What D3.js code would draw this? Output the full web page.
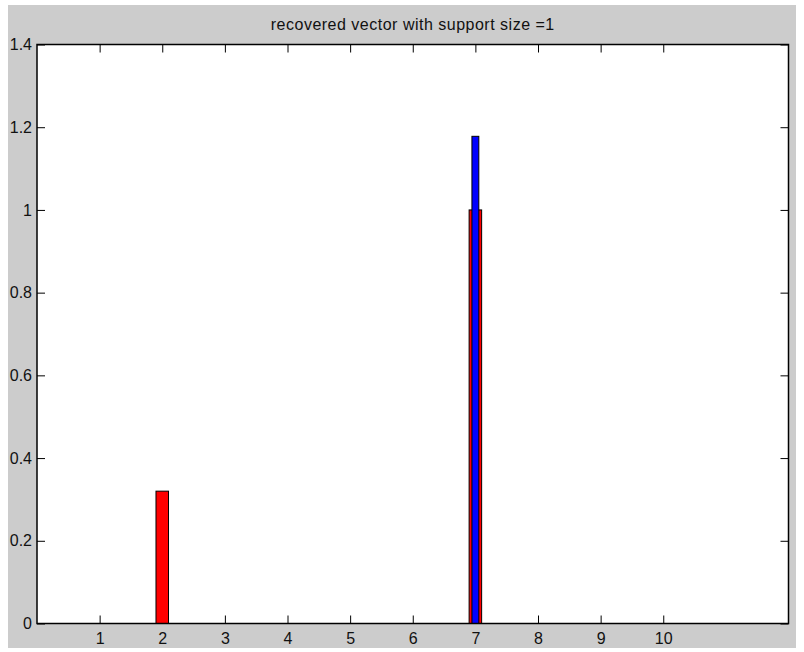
<!DOCTYPE html>
<html lang="en">
<head>
  <meta charset="UTF-8">
  <script src="https://d3js.org/d3.v7.min.js"></script>
  <title>recovered vector</title>
  <style>
    body { margin: 0; background: #fff; }
    text { font-family: "Liberation Sans", Arial, Helvetica, sans-serif; fill: #111; }
  </style>
</head>
<body>
  <svg width="804" height="652"></svg>

  <script>
    // data
    var indices = [1, 2, 3, 4, 5, 6, 7, 8, 9, 10]
    var redValues = [0, 0.32, 0, 0, 0, 0, 1.0, 0, 0, 0]
    var blueValues = [0, 0, 0, 0, 0, 0, 1.178, 0, 0, 0]
    var yTicks = [0, 0.2, 0.4, 0.6, 0.8, 1, 1.2, 1.4]
    var xTicks = [1, 2, 3, 4, 5, 6, 7, 8, 9, 10]
    var title = "recovered vector with support size =1"

    var svg = d3.select("svg")
    var marge = { top: 44.5, bottom: 623.5, left: 37, right: 788.5 }

    // gray figure background
    svg.append("rect")
      .attr("x", 8).attr("y", 5)
      .attr("width", 788).attr("height", 643)
      .attr("fill", "#cccccc")

    var x = d3.scaleLinear().domain([0, 12]).range([marge.left, marge.right])
    var y = d3.scaleLinear().domain([0, 1.4]).range([marge.bottom, marge.top])

    // white plotting area
    svg.append("rect")
      .attr("x", marge.left).attr("y", marge.top)
      .attr("width", marge.right - marge.left)
      .attr("height", marge.bottom - marge.top)
      .attr("fill", "#fff")

    // axes (ticks inward, matlab style) - drawn under the bars
    var tl = 8
    svg.append("g")
      .attr("transform", "translate(0," + marge.bottom + ")")
      .call(d3.axisBottom(x).tickValues(xTicks).tickSize(-tl).tickPadding(9).tickFormat(d3.format("d")))
    svg.append("g")
      .attr("transform", "translate(0," + marge.top + ")")
      .call(d3.axisTop(x).tickValues(xTicks).tickSize(-tl).tickFormat(""))
    svg.append("g")
      .attr("transform", "translate(" + marge.left + ",0)")
      .call(d3.axisLeft(y).tickValues(yTicks).tickSize(-tl).tickPadding(5).tickFormat(function(d){ return String(+d.toFixed(1)) }))
    svg.append("g")
      .attr("transform", "translate(" + marge.right + ",0)")
      .call(d3.axisRight(y).tickValues(yTicks).tickSize(-tl).tickFormat(""))

    svg.selectAll(".domain").remove()
    svg.selectAll(".tick line").attr("stroke", "#000").attr("stroke-width", 1)
    svg.selectAll(".tick text").attr("font-size", 16).attr("fill", "#111")
      .style("font-family", "'Liberation Sans', Arial, sans-serif")

    // bars: red first, blue (narrower) on top
    var redW = x(0.2) - x(0)
    var blueW = x(0.11) - x(0)
    svg.append("g").selectAll("rect")
      .data(indices.map(function(d, i){ return { k: d, v: redValues[i] } }).filter(function(d){ return d.v > 0 }))
      .enter().append("rect")
      .attr("x", function(d){ return x(d.k) - redW / 2 })
      .attr("y", function(d){ return y(d.v) })
      .attr("width", redW)
      .attr("height", function(d){ return y(0) - y(d.v) })
      .attr("fill", "#ff0000")
      .attr("stroke", "#000")
      .attr("stroke-width", 1)
    svg.append("g").selectAll("rect")
      .data(indices.map(function(d, i){ return { k: d, v: blueValues[i] } }).filter(function(d){ return d.v > 0 }))
      .enter().append("rect")
      .attr("x", function(d){ return x(d.k) - blueW / 2 })
      .attr("y", function(d){ return y(d.v) })
      .attr("width", blueW)
      .attr("height", function(d){ return y(0) - y(d.v) })
      .attr("fill", "#0000ff")
      .attr("stroke", "#000")
      .attr("stroke-width", 1)

    // axes box
    svg.append("rect")
      .attr("x", marge.left).attr("y", marge.top)
      .attr("width", marge.right - marge.left)
      .attr("height", marge.bottom - marge.top)
      .attr("fill", "none")
      .attr("stroke", "#000")
      .attr("stroke-width", 1.5)

    svg.append("text")
      .attr("x", (marge.left + marge.right) / 2)
      .attr("y", 30)
      .attr("text-anchor", "middle")
      .attr("font-size", 16)
      .attr("letter-spacing", 0.5)
      .text(title)
  </script>
</body>
</html>
